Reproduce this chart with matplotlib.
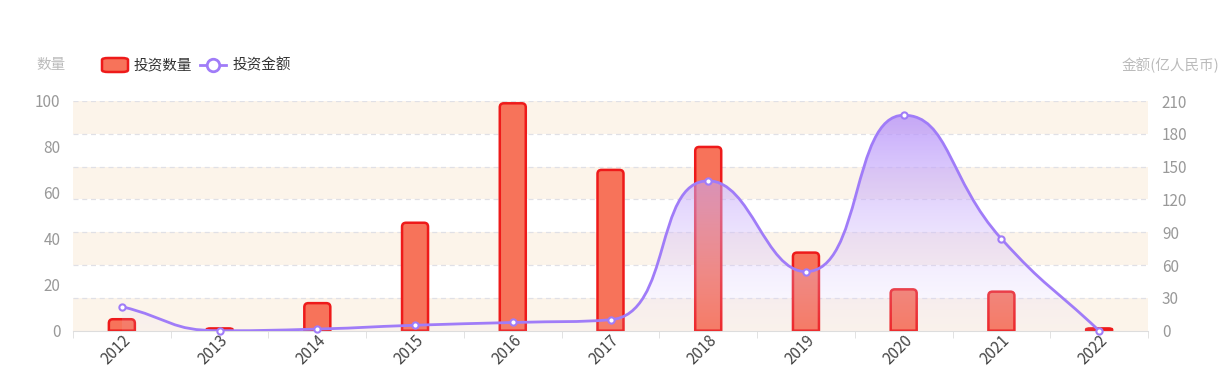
import numpy as np
import matplotlib
matplotlib.use("Agg")
import matplotlib.pyplot as plt
from matplotlib.path import Path
from matplotlib.patches import PathPatch, FancyBboxPatch
from matplotlib.lines import Line2D

plt.rcParams['font.family'] = ['Noto Sans CJK SC', 'DejaVu Sans']

years = ['2012', '2013', '2014', '2015', '2016', '2017', '2018', '2019', '2020', '2021', '2022']
counts = [5, 1, 12, 47, 99, 70, 80, 34, 18, 17, 1]
amounts = [22, 0, 1.5, 5, 7.5, 10, 137, 54, 197, 84, 0]

left_ticks = [0, 20, 40, 60, 80, 100]
right_ticks = [0, 30, 60, 90, 120, 150, 180, 210]

bar_color = '#f7735a'
bar_edge = '#ee1a1a'
line_color = '#a07cf8'
band_color = '#fcf4ea'
label_gray = '#999999'

W, H = 1222, 383
fig = plt.figure(figsize=(W / 100, H / 100), dpi=100)
x0, x1, yb, yt = 73, 1148, 330.7, 101
ax = fig.add_axes([x0 / W, 1 - yb / H, (x1 - x0) / W, (yb - yt) / H])
ax2 = ax.twinx()

n = len(years)
xs = np.arange(n)
ax.set_xlim(-0.5, n - 0.5)
ax.set_ylim(0, 100)
ax2.set_xlim(-0.5, n - 0.5)
ax2.set_ylim(0, 210)

ax.set_zorder(1)
ax2.set_zorder(2)
ax.patch.set_visible(False)
ax2.patch.set_visible(False)

# split areas & dashed grid following the right axis
scale = 100 / 210
for i in range(len(right_ticks) - 1):
    if i % 2 == 0:
        ax.axhspan(right_ticks[i] * scale, right_ticks[i + 1] * scale,
                   color=band_color, zorder=0, lw=0)
for t in right_ticks[1:]:
    ax.axhline(t * scale, color='#e0e0e6', lw=0.9, ls=(0, (4, 3)), zorder=0.5)

# bars with rounded top
fig.canvas.draw()
bw = 26 / ((x1 - x0) / n)
px_per_unit_y = (yb - yt) / 100
for xi, c in zip(xs, counts):
    h = c
    left, right = xi - bw / 2, xi + bw / 2
    ry = min(4 / px_per_unit_y, h / 2)
    rx = 4 / ((x1 - x0) / n)
    pth = Path([(left, 0), (left, h - ry), (left, h), (left + rx, h),
                (right - rx, h), (right, h), (right, h - ry), (right, 0), (left, 0)],
               [Path.MOVETO, Path.LINETO, Path.CURVE3, Path.CURVE3, Path.LINETO,
                Path.CURVE3, Path.CURVE3, Path.LINETO, Path.CLOSEPOLY])
    ax.add_patch(PathPatch(pth, facecolor=bar_color, edgecolor=bar_edge, lw=1.8, zorder=2))

# smooth line (ECharts-like bezier) computed in pixel space
tr = ax2.transData
pts = tr.transform(np.column_stack([xs, amounts]))
smooth = 0.5
cps = []
for i in range(n):
    x, y = pts[i]
    px, py = pts[i - 1] if i > 0 else pts[i]
    nx, ny = pts[i + 1] if i < n - 1 else pts[i]
    vx, vy = nx - px, ny - py
    d0 = np.hypot(x - px, y - py)
    d1 = np.hypot(nx - x, ny - y)
    if d0 + d1 == 0:
        cps.append(((x, y), (x, y)))
        continue
    ratio = d1 / (d0 + d1)
    c1x, c1y = x - vx * smooth * (1 - ratio), y - vy * smooth * (1 - ratio)
    c0x, c0y = x + vx * smooth * ratio, y + vy * smooth * ratio
    c0x = min(c0x, max(nx, x)); c0y = min(c0y, max(ny, y))
    c0x = max(c0x, min(nx, x)); c0y = max(c0y, min(ny, y))
    if d1 > 0:
        ux, uy = c0x - x, c0y - y
        c1x, c1y = x - ux * d0 / d1, y - uy * d0 / d1
    c1x = min(c1x, max(px, x)); c1y = min(c1y, max(py, y))
    c1x = max(c1x, min(px, x)); c1y = max(c1y, min(py, y))
    if d0 > 0:
        ux, uy = x - c1x, y - c1y
        c0x, c0y = x + ux * d1 / d0, y + uy * d1 / d0
    cps.append(((c1x, c1y), (c0x, c0y)))

verts = [tuple(pts[0])]
codes = [Path.MOVETO]
for i in range(1, n):
    verts += [cps[i - 1][1], cps[i][0], tuple(pts[i])]
    codes += [Path.CURVE4] * 3
inv = tr.inverted()
dverts = inv.transform(np.array(verts))
line_path = Path(dverts, codes)

# area fill with gradient
area_verts = list(dverts) + [(xs[-1], 0), (xs[0], 0), tuple(dverts[0])]
area_codes = list(codes) + [Path.LINETO, Path.LINETO, Path.CLOSEPOLY]
area_path = Path(area_verts, area_codes)
top = max(amounts)
rgba = np.zeros((256, 1, 4))
c_top = np.array([0.72, 0.58, 0.98])
c_bot = np.array([0.90, 0.85, 1.0])
for k in range(256):
    t = 1 - k / 255
    rgba[k, 0, :3] = c_bot + (c_top - c_bot) * t
    rgba[k, 0, 3] = 0.08 + 0.72 * t
im = ax2.imshow(rgba, extent=[xs[0], xs[-1], 0, top], aspect='auto', origin='upper', zorder=3)
clip = PathPatch(area_path, transform=ax2.transData, facecolor='none', edgecolor='none')
ax2.add_patch(clip)
im.set_clip_path(clip)
ax2.set_xlim(-0.5, n - 0.5)
ax2.set_ylim(0, 210)

ax2.add_patch(PathPatch(line_path, facecolor='none', edgecolor=line_color, lw=2, zorder=4))
ax2.plot(xs, amounts, 'o', ms=4.5, mfc='white', mec=line_color, mew=1.5, zorder=5, clip_on=False)

# axes styling
for a in (ax, ax2):
    for s in a.spines.values():
        s.set_visible(False)
ax.spines['bottom'].set_visible(True)
ax.spines['bottom'].set_color('#dddddd')
ax.set_yticks(left_ticks)
ax.set_yticklabels([str(v) for v in left_ticks])
ax.tick_params(axis='y', length=0, pad=9, labelsize=11, labelcolor=label_gray)
ax2.set_yticks(right_ticks)
ax2.set_yticklabels([str(v) for v in right_ticks])
ax2.tick_params(axis='y', length=0, pad=10, labelsize=11, labelcolor=label_gray)
ax.set_xticks(xs)
ax.set_xticklabels(years, rotation=45, ha='right', rotation_mode='anchor', fontsize=11, color='#444444')
ax.tick_params(axis='x', length=0, pad=1)
ax.set_xticks(np.arange(-0.5, n, 1), minor=True)
ax.tick_params(axis='x', which='minor', length=5, color='#dddddd')

# axis names
fig.text(51 / W, 1 - 65 / H, '数量', ha='center', va='center', fontsize=10.5, color='#bbbbbb')
fig.text(1170 / W, 1 - 65 / H, '金额(亿人民币)', ha='center', va='center', fontsize=10.5, color='#bbbbbb')

# legend
lx, ly = 101, 65
fig.patches.append(FancyBboxPatch(((lx + 1) / W, 1 - (ly + 7) / H), 26 / W, 14 / H,
                                  boxstyle='round,pad=0,rounding_size=0.005',
                                  transform=fig.transFigure, facecolor=bar_color,
                                  edgecolor=bar_edge, lw=1.8))
fig.text(134 / W, 1 - ly / H, '投资数量', ha='left', va='center', fontsize=10.5, color='#333333')
fig.lines.append(Line2D([200 / W, 226 / W], [1 - ly / H, 1 - ly / H], color=line_color, lw=2,
                        transform=fig.transFigure))
fig.lines.append(Line2D([213 / W], [1 - ly / H], marker='o', ms=9, mfc='white', mec=line_color,
                        mew=2, transform=fig.transFigure))
fig.text(233 / W, 1 - ly / H, '投资金额', ha='left', va='center', fontsize=10.5, color='#333333')

fig.savefig('out.png', dpi=100)
